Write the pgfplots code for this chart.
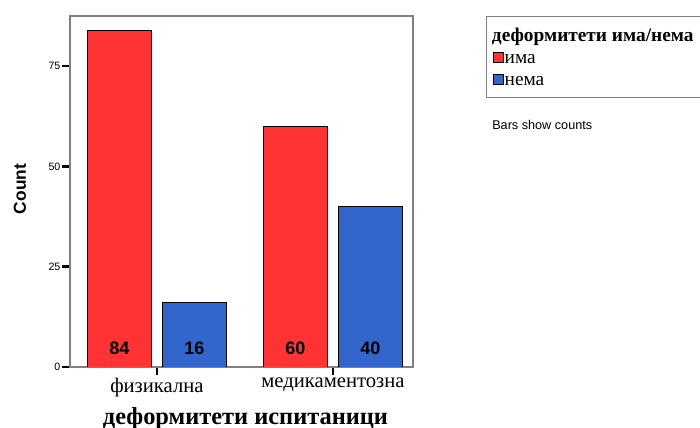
\documentclass[border=0pt]{standalone}
\usepackage{fontspec}
\setmainfont{Liberation Serif}
\setsansfont{Liberation Sans}
\usepackage{pgfplots}
\pgfplotsset{compat=1.18}
\definecolor{barred}{RGB}{255,51,51}
\definecolor{barblue}{RGB}{51,102,204}
\begin{document}
\begin{tikzpicture}
\begin{axis}[
  at={(52.5pt,45.75pt)}, anchor=south west,
  scale only axis, width=257.25pt, height=263.25pt,
  xmin=-0.494, xmax=1.455, ymin=0, ymax=87.5,
  xtick={0,1}, xticklabels={физикална, медикаментозна},
  ytick={0,25,50,75},
  tick align=outside, xtick pos=left, ytick pos=left,
  major tick length=6pt,
  tick style={black, line width=2pt},
  axis line style={draw=gray, line width=0.9pt},
  /pgf/number format/assume math mode=true,
  yticklabel style={font=\sffamily\fontsize{8}{9}\selectfont, inner sep=1pt},
  xticklabel style={font=\fontsize{15.5}{17}\selectfont, inner sep=2pt},
  xlabel={\textbf{деформитети испитаници}},
  xlabel style={font=\fontsize{18.3}{20}\selectfont, yshift=-2.5pt, xshift=3pt},
  ylabel={\textbf{Count}},
  ylabel style={font=\sffamily\fontsize{13}{15}\selectfont, at={(axis description cs:-0.146,0.507)}, anchor=center},
  legend style={at={(1.213,1)}, anchor=north west, draw=gray, line width=0.9pt,
    font=\fontsize{14.5}{16}\selectfont, inner xsep=5pt, inner ysep=5.5pt,
    row sep=0pt, column sep=0pt, cells={anchor=west, inner sep=0pt}},
  legend cell align=left,
  legend image code/.code={\draw[#1, line width=0.5pt, draw=black] (0pt,-3.75pt) rectangle (7.5pt,3.75pt);},
]
\addlegendimage{empty legend}
\addlegendentry{\hspace*{-11pt}\rule[-7pt]{0pt}{18.25pt}\textbf{деформитети има/нема}}
\addplot[ybar, bar width=0.364, bar shift=0pt, fill=barred, draw=black, line width=0.5pt]
  coordinates {(-0.213,84) (0.787,60)};
\addlegendentry{\rule[-4pt]{0pt}{15pt}\hspace*{-1.5pt}има}
\addplot[ybar, bar width=0.364, bar shift=0pt, fill=barblue, draw=black, line width=0.5pt]
  coordinates {(0.213,16) (1.213,40)};
\addlegendentry{\rule[-4pt]{0pt}{15pt}\hspace*{-1.5pt}нема}
\addplot[draw=none, mark=none, forget plot, nodes near coords, point meta=explicit symbolic,
  nodes near coords style={font=\sffamily\bfseries\fontsize{13.5}{15}\selectfont, anchor=center, text=black}]
  coordinates {(-0.213,4.73) [84] (0.213,4.73) [16] (0.787,4.73) [60] (1.213,4.73) [40]};
\end{axis}
\node[anchor=west, font=\sffamily\fontsize{9.5}{11}\selectfont, inner sep=0pt] at (369pt,227.25pt) {Bars show counts};
\pgfresetboundingbox
\useasboundingbox (0,0) rectangle (525pt,321pt);
\end{tikzpicture}
\end{document}
